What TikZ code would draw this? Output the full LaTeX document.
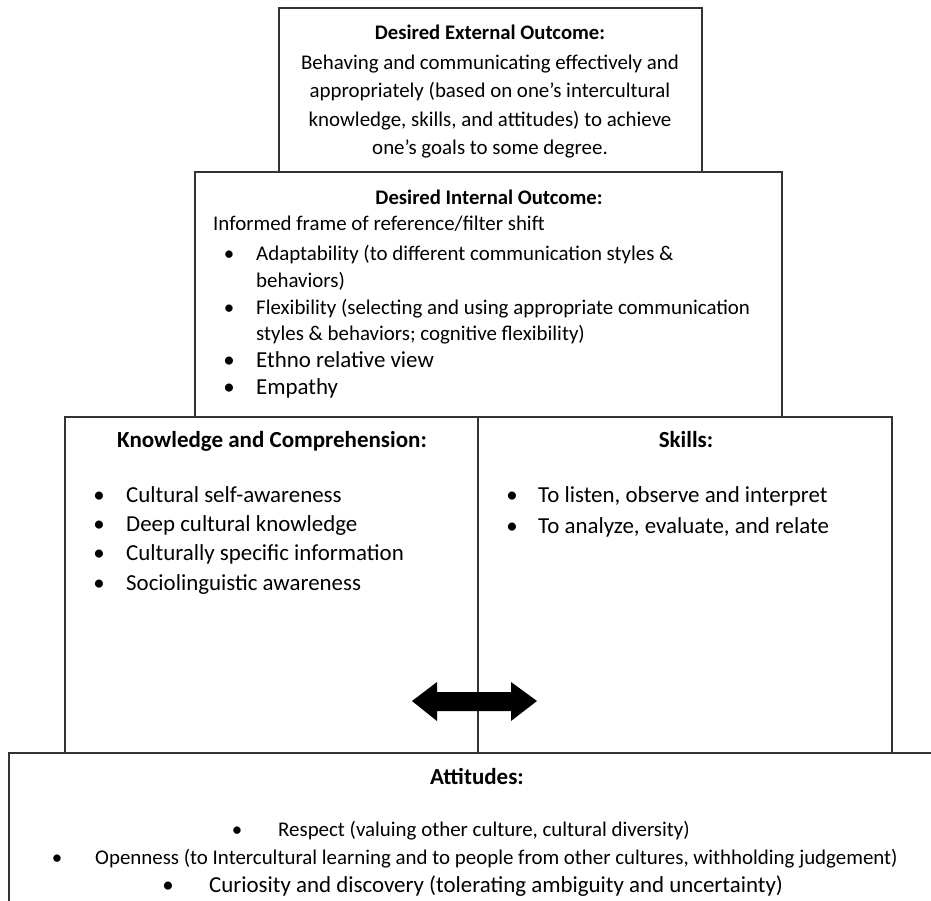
\documentclass[tikz,border=0pt]{standalone}
\usepackage{fontspec}
\setmainfont{Carlito}
\begin{document}
\begin{tikzpicture}[x=1pt,y=-1pt,
  box/.style={draw=black!80,line width=1.4pt},
  sm/.style={font=\fontsize{20.9}{25}\selectfont, inner sep=0pt},
  lg/.style={font=\fontsize{22.9}{27}\selectfont, inner sep=0pt},
  smb/.style={font=\fontsize{20.7}{25}\selectfont\bfseries, inner sep=0pt},
  lgb/.style={font=\fontsize{23}{27}\selectfont\bfseries, inner sep=0pt},
  blt/.style={inner sep=0pt,anchor=mid},
]
\useasboundingbox (0,0) rectangle (931,900);
\clip (0,0) rectangle (931,900);

% boxes
\draw[box] (279,8) rectangle (702,172);
\draw[box] (195,172) rectangle (782,417);
\draw[box] (65,417) rectangle (478,753);
\draw[box] (478,417) rectangle (892,753);
\draw[box] (9,753) rectangle (945,915);

% double arrow
\fill (412,701) -- (437,682) -- (437,692) -- (511,692) -- (511,682) -- (537,701)
  -- (511,721) -- (511,711) -- (437,711) -- (437,721) -- cycle;

\begin{scope}[yshift=-4pt]
% external outcome
\node[smb,anchor=mid] (ext) at (490,33) {Desired External Outcome:};
\node[sm,anchor=mid] (e1) at (490,63) {Behaving and communicating effectively and};
\node[sm,anchor=mid] (e2) at (490,91) {appropriately (based on one’s intercultural};
\node[sm,anchor=mid] (e3) at (490,120) {knowledge, skills, and attitudes) to achieve};
\node[sm,anchor=mid] (e4) at (490,148) {one’s goals to some degree.};

% internal outcome
\node[smb,anchor=mid] (int) at (489,198) {Desired Internal Outcome:};
\node[sm,anchor=mid west] (i0) at (213,224) {Informed frame of reference/filter shift};
\node[sm,blt] (b1) at (229,254) {•};
\node[sm,anchor=mid west] (i1) at (256,254) {Adaptability (to different communication styles \&};
\node[sm,anchor=mid west] (i1b) at (256,281) {behaviors)};
\node[sm,blt] (b2) at (229,308) {•};
\node[sm,anchor=mid west] (i2) at (256,308) {Flexibility (selecting and using appropriate communication};
\node[sm,anchor=mid west] (i2b) at (256,334) {styles \& behaviors; cognitive flexibility)};
\node[lg,blt] (b3) at (229,361) {•};
\node[lg,anchor=mid west] (i3) at (256,361) {Ethno relative view};
\node[lg,blt] (b4) at (229,388) {•};
\node[lg,anchor=mid west] (i4) at (256,388) {Empathy};

% knowledge
\node[lgb,anchor=mid] (kn) at (272,441) {Knowledge and Comprehension:};
\node[lg,blt] (kb1) at (99,496) {•};
\node[lg,anchor=mid west] (k1) at (126,496) {Cultural self-awareness};
\node[lg,blt] (kb2) at (99,525) {•};
\node[lg,anchor=mid west] (k2) at (126,525) {Deep cultural knowledge};
\node[lg,blt] (kb3) at (99,554) {•};
\node[lg,anchor=mid west] (k3) at (126,554) {Culturally specific information};
\node[lg,blt] (kb4) at (99,584) {•};
\node[lg,anchor=mid west] (k4) at (126,584) {Sociolinguistic awareness};

% skills
\node[lgb,anchor=mid] (sk) at (686,441) {Skills:};
\node[lg,blt] (sb1) at (512,496) {•};
\node[lg,anchor=mid west] (s1) at (538,496) {To listen, observe and interpret};
\node[lg,blt] (sb2) at (512,527) {•};
\node[lg,anchor=mid west] (s2) at (538,527) {To analyze, evaluate, and relate};

% attitudes
\node[lgb,anchor=mid] (at) at (477,778) {Attitudes:};
\node[sm,blt] (ab1) at (237,830) {•};
\node[sm,anchor=mid west] (a1) at (278,830) {Respect (valuing other culture, cultural diversity)};
\node[sm,blt] (ab2) at (57,858) {•};
\node[sm,anchor=mid west] (a2) at (95,858) {Openness (to Intercultural learning and to people from other cultures, withholding judgement)};
\node[lg,blt] (ab3) at (168,886) {•};
\node[lg,anchor=mid west] (a3) at (209,886) {Curiosity and discovery (tolerating ambiguity and uncertainty)};
\end{scope}
\end{tikzpicture}
\end{document}
